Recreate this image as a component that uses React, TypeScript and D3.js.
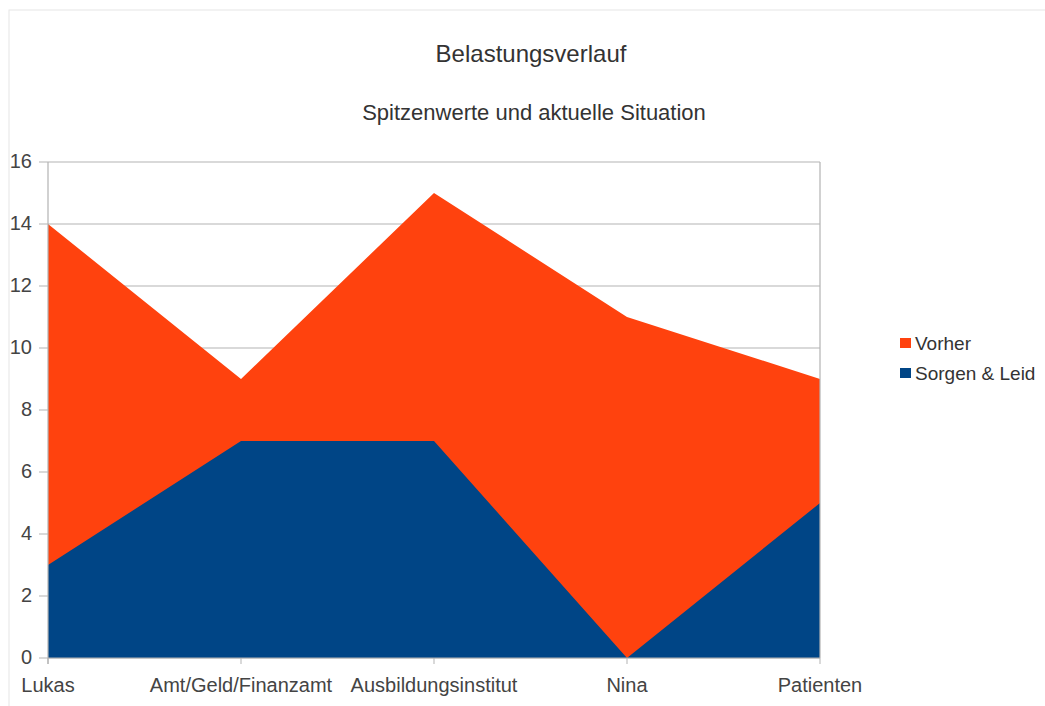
import { useMemo } from "react";
import * as d3 from "d3";

const categories = ["Lukas", "Amt/Geld/Finanzamt", "Ausbildungsinstitut", "Nina", "Patienten"];
const vorher = [14, 9, 15, 11, 9];
const sorgen = [3, 7, 7, 0, 5];
const yTicks = [0, 2, 4, 6, 8, 10, 12, 14, 16];

const series = [
  { name: "Vorher", values: vorher, color: "#ff420e" },
  { name: "Sorgen & Leid", values: sorgen, color: "#004586" },
];

const WIDTH = 1045;
const HEIGHT = 706;
const FONT = "'Liberation Sans', Arial, sans-serif";

const App = () => {
  // plot area
  const left = 48;
  const right = 820;
  const top = 162;
  const bottom = 658;

  const xScale = useMemo(
    () => d3.scalePoint<string>().domain(categories).range([left, right]),
    []
  );
  const yScale = useMemo(
    () => d3.scaleLinear().domain([0, 16]).range([bottom, top]),
    []
  );

  const area = d3
    .area<number>()
    .x((_, i) => xScale(categories[i]) ?? 0)
    .y0(yScale(0))
    .y1((d) => yScale(d));

  return (
    <svg
      width={WIDTH}
      height={HEIGHT}
      style={{ position: "absolute", left: 0, top: 0 }}
      fontFamily={FONT}
    >
      <rect x={0} y={0} width={WIDTH} height={HEIGHT} fill="#ffffff" />
      <rect x={9} y={10} width={1040} height={720} fill="none" stroke="#e6e6e6" />

      <text x={531} y={62} textAnchor="middle" fontSize={24} fill="#333">
        Belastungsverlauf
      </text>
      <text x={534} y={120} textAnchor="middle" fontSize={22} fill="#333">
        Spitzenwerte und aktuelle Situation
      </text>

      {/* grid + y axis */}
      {yTicks.map((t) => (
        <g key={t}>
          <line
            x1={left - 9}
            x2={right}
            y1={yScale(t)}
            y2={yScale(t)}
            stroke="#b3b3b3"
            strokeWidth={1.2}
          />
          <text
            x={32}
            y={yScale(t) - 1}
            textAnchor="end"
            dominantBaseline="central"
            fontSize={20}
            fill="#444"
          >
            {t}
          </text>
        </g>
      ))}

      {series.map((s) => (
        <path key={s.name} d={area(s.values) ?? ""} fill={s.color} />
      ))}

      <line x1={left} x2={left} y1={top} y2={bottom + 6} stroke="#b3b3b3" strokeWidth={1.2} />
      <line x1={right} x2={right} y1={top} y2={bottom} stroke="#b3b3b3" strokeWidth={1.2} />
      <line x1={left} x2={right} y1={bottom} y2={bottom} stroke="#b3b3b3" strokeWidth={1.2} />

      {categories.map((c) => (
        <g key={c}>
          <line
            x1={xScale(c)}
            x2={xScale(c)}
            y1={bottom}
            y2={bottom + 6}
            stroke="#b3b3b3"
          />
          <text x={xScale(c)} y={692} textAnchor="middle" fontSize={20} fill="#444">
            {c}
          </text>
        </g>
      ))}

      {/* legend */}
      {series.map((s, i) => (
        <g key={s.name} transform={`translate(900, ${338 + i * 30})`}>
          <rect x={0} y={0} width={11} height={10} fill={s.color} />
          <text x={15} y={5} dominantBaseline="central" fontSize={19} fill="#333">
            {s.name}
          </text>
        </g>
      ))}
    </svg>
  );
};

export default App;
